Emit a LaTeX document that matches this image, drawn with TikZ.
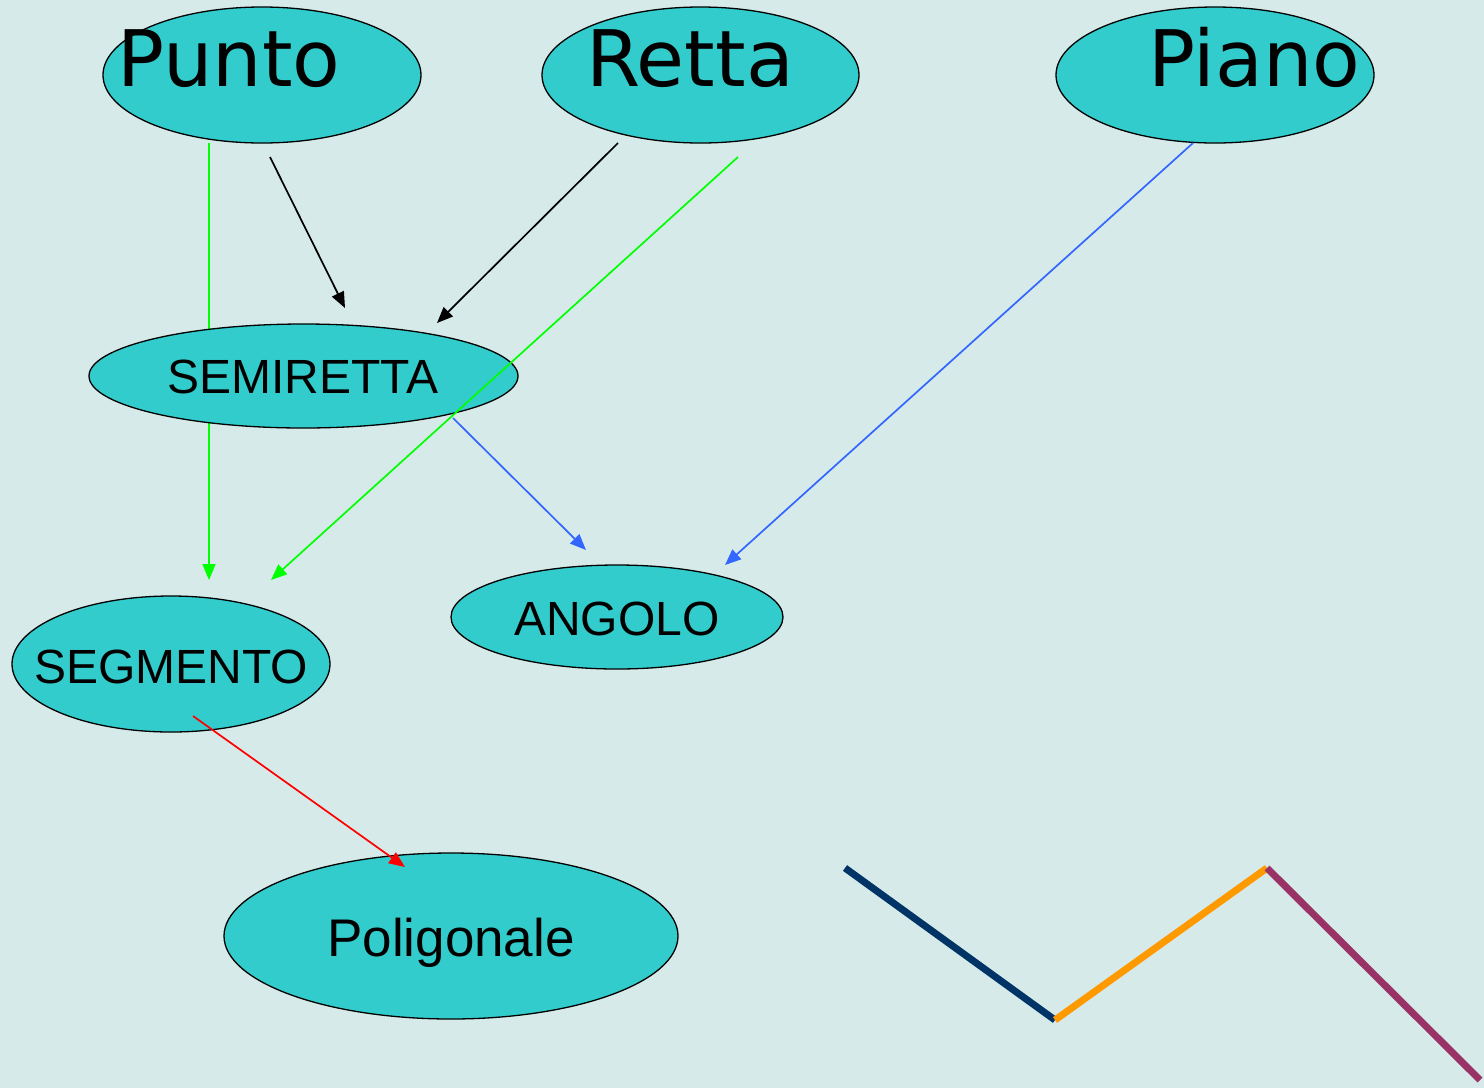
\documentclass[tikz,border=0pt]{standalone}
\usepackage{fontspec}
\setmainfont{Liberation Sans}
\newfontfamily\titlefont{DejaVu Sans}
\usetikzlibrary{shapes.geometric,arrows.meta,calc}

\definecolor{bgcol}{RGB}{214,234,233}
\definecolor{blobcol}{RGB}{51,204,204}
\definecolor{linkgreen}{RGB}{0,255,0}
\definecolor{linkblue}{RGB}{51,102,255}
\definecolor{linkred}{RGB}{255,0,0}
\definecolor{segnavy}{RGB}{0,51,102}
\definecolor{segorange}{RGB}{255,153,0}
\definecolor{segplum}{RGB}{153,51,102}

\tikzset{
  blob/.style={ellipse, draw=black, line width=1.3pt, fill=blobcol, inner sep=0pt},
  bigword/.style={anchor=base, inner sep=0pt, font=\titlefont\fontsize{78}{82}\selectfont},
  word/.style={anchor=base, inner sep=0pt, font=\fontsize{48}{52}\selectfont},
  link/.style={line width=1.7pt, -{Triangle[length=16pt,width=13pt]}},
  stroke/.style={line width=7pt, line cap=butt}
}

\begin{document}
\begin{tikzpicture}[x=1pt,y=-1pt]
\useasboundingbox (0,0) rectangle (1484,1088);
\fill[bgcol] (0,0) rectangle (1484,1088);

% centres of the ovals that the first link refers to
\coordinate (pC) at (262,75);
\coordinate (gC) at (171,664);

% this link runs behind SEMIRETTA
\draw[link, linkgreen] ($(pC)+(-53,68)$) -- ($(gC)+(38,-84)$);

% ovals
\node[blob, minimum width=318pt, minimum height=136pt] (punto) at (262,75) {};
\node[blob, minimum width=317pt, minimum height=136pt] (retta) at (700.5,75) {};
\node[blob, minimum width=318pt, minimum height=136pt] (piano) at (1215,75) {};
\node[blob, minimum width=429pt, minimum height=104pt] (semiretta) at (303.5,376) {};
\node[blob, minimum width=318pt, minimum height=136pt] (segmento) at (171,664) {};
\node[blob, minimum width=332pt, minimum height=104pt] (angolo) at (617,617) {};
\node[blob, minimum width=454pt, minimum height=166pt] (poligonale) at (451,936) {};

% labels
\node[bigword] (tPunto) at (229,86) {Punto};
\node[bigword] (tRetta) at (690,86) {Retta};
\node[bigword] (tPiano) at (1254.5,86) {Piano};
\node[word] (tSemiretta) at (303,393) {SEMIRETTA};
\node[word] (tSegmento) at (171,683) {SEGMENTO};
\node[word] (tAngolo) at (617,635) {ANGOLO};
\node[word, font=\fontsize{53}{56}\selectfont] (tPoligonale) at (451,956) {Poligonale};

% links
\draw[link, black] ($(punto)+(8,82)$) -- ($(semiretta)+(41.5,-68)$);
\draw[link, black] ($(retta)+(-82.5,68)$) -- ($(semiretta)+(133.5,-53)$);
\draw[link, linkgreen] ($(retta)+(37.5,82)$) -- ($(segmento)+(100,-84)$);
\draw[link, linkblue] ($(semiretta)+(149.5,42)$) -- ($(angolo)+(-31,-67)$);
\draw[link, linkblue] ($(piano)+(-22,68)$) -- ($(angolo)+(108,-52)$);
\draw[link, linkred] ($(segmento)+(22,52)$) -- ($(poligonale)+(-46,-69)$);

% coloured broken line
\coordinate (v1) at (845,868);
\coordinate (v2) at (1055,1020);
\coordinate (v3) at (1267,868);
\coordinate (v4) at (1480,1080);
\draw[stroke, segnavy] (v1) -- (v2);
\draw[stroke, segorange] (v2) -- (v3);
\draw[stroke, segplum] (v3) -- (v4);
\end{tikzpicture}
\end{document}
